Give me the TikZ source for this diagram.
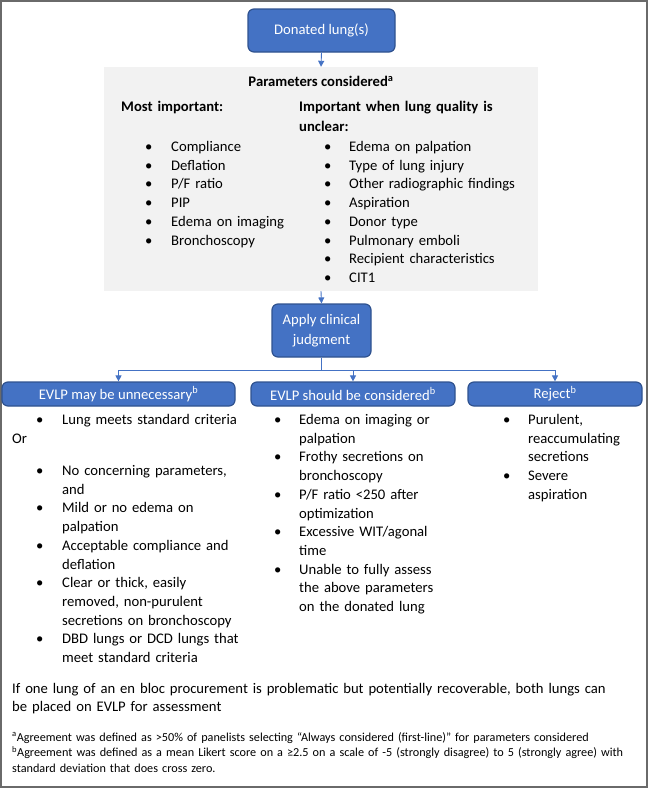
\documentclass[tikz,border=0pt]{standalone}
\usepackage{fontspec}
\setmainfont{Carlito}
\usetikzlibrary{arrows.meta}
\definecolor{bfill}{HTML}{4472C4}
\definecolor{bdraw}{HTML}{2F528F}
\definecolor{gfill}{HTML}{F2F2F2}
\definecolor{frame}{HTML}{6A6A6A}
\newcommand\bodyfs{\fontsize{14.67}{18.7}\selectfont}
\newcommand\notefs{\fontsize{12.2}{15.5}\selectfont}
\newcommand\bitem[5]{%
  \node[bul] (#1b) at (#2,#4) {•};
  \node[txt] (#1) at (#3,#4) {#5};}
\begin{document}
\begin{tikzpicture}[x=1pt,y=-1pt,
  bluebox/.style={draw=bdraw, fill=bfill, line width=1.2pt, rounded corners=6pt,
    text=white, font=\bodyfs, align=center, inner sep=0pt},
  conn/.style={draw=bfill, line width=0.9pt},
  arr/.style={conn, -{Triangle[length=6pt,width=6pt]}},
  txt/.style={anchor=base west, inner sep=0pt, font=\bodyfs, align=left, text width=260pt},
  bul/.style={anchor=base west, inner sep=0pt, font=\bodyfs},
  hdr/.style={anchor=base west, inner sep=0pt, font=\bodyfs\bfseries, align=left, text width=240pt},
]
\useasboundingbox (0,0) rectangle (648,788);
\draw[frame, line width=1.4pt] (1,1) rectangle (647,787);

% top
\node[bluebox, minimum width=147pt, minimum height=43pt] (donor) at (321.5,30.5) {Donated lung(s)};
\node[fill=gfill, minimum width=434pt, minimum height=224pt, inner sep=0pt] (params) at (321,179) {};
\draw[arr] (donor.south) -- (params.north);

\node[anchor=base, inner sep=0pt, font=\bodyfs\bfseries] (ptitle) at (321,86.5) {Parameters considered\textsuperscript{a}};
\node[hdr] (most) at (121,111.5) {Most important:};
\node[hdr, text width=210pt] (unclear) at (299,111.5) {Important when lung quality is\\[1.3pt]unclear:};

\bitem{l1}{145}{171}{151.5}{Compliance}
\bitem{l2}{145}{171}{170.2}{Deflation}
\bitem{l3}{145}{171}{188.9}{P/F ratio}
\bitem{l4}{145}{171}{207.6}{PIP}
\bitem{l5}{145}{171}{226.3}{Edema on imaging}
\bitem{l6}{145}{171}{245.0}{Bronchoscopy}

\bitem{r1}{324}{349}{151.5}{Edema on palpation}
\bitem{r2}{324}{349}{170.2}{Type of lung injury}
\bitem{r3}{324}{349}{188.9}{Other radiographic findings}
\bitem{r4}{324}{349}{207.6}{Aspiration}
\bitem{r5}{324}{349}{226.3}{Donor type}
\bitem{r6}{324}{349}{245.0}{Pulmonary emboli}
\bitem{r7}{324}{349}{263.7}{Recipient characteristics}
\bitem{r8}{324}{349}{282.4}{CIT1}

% judgment
\node[bluebox, minimum width=99pt, minimum height=53pt, font=\fontsize{14.67}{20}\selectfont] (judge) at (321.5,330.5) {Apply clinical\\judgment};
\draw[arr] (params.south) -- (judge.north);

\node[bluebox, minimum width=233pt, minimum height=24pt] (may) at (118.5,394) {EVLP may be unnecessary\textsuperscript{b}};
\node[bluebox, minimum width=204pt, minimum height=24pt] (should) at (353,394) {EVLP should be considered\textsuperscript{b}};
\node[bluebox, minimum width=174pt, minimum height=24pt] (reject) at (555,394) {Reject\textsuperscript{b}};

\coordinate (split) at (321.5,370);
\draw[conn] (judge.south) -- (split);
\draw[arr] (split) -| (may.north);
\draw[arr] (split) -| (should.north);
\draw[arr] (split) -| (reject.north);

% left column
\bitem{a1}{36}{62}{424.5}{Lung meets standard criteria}
\node[txt] (or) at (12,443.5) {Or};
\bitem{a2}{36}{62}{475.5}{No concerning parameters,\\and}
\bitem{a3}{36}{62}{512.9}{Mild or no edema on\\palpation}
\bitem{a4}{36}{62}{550.3}{Acceptable compliance and\\deflation}
\bitem{a5}{36}{62}{587.7}{Clear or thick, easily\\removed, non-purulent\\secretions on bronchoscopy}
\bitem{a6}{36}{62}{643.8}{DBD lungs or DCD lungs that\\meet standard criteria}

% middle column
\bitem{m1}{274}{299}{424.5}{Edema on imaging or\\palpation}
\bitem{m2}{274}{299}{461.9}{Frothy secretions on\\bronchoscopy}
\bitem{m3}{274}{299}{499.3}{P/F ratio <250 after\\optimization}
\bitem{m4}{274}{299}{536.7}{Excessive WIT/agonal\\time}
\bitem{m5}{274}{299}{574.1}{Unable to fully assess\\the above parameters\\on the donated lung}

% right column
\bitem{j1}{503}{528}{424.5}{Purulent,\\reaccumulating\\secretions}
\bitem{j2}{503}{528}{480.6}{Severe\\aspiration}

% bottom
\node[txt, text width=620pt] (enbloc) at (12,693) {If one lung of an en bloc procurement is problematic but potentially recoverable, both lungs can\\be placed on EVLP for assessment};
\node[txt, font=\notefs, text width=630pt] (fna) at (12,741) {\textsuperscript{a}Agreement was defined as >50\% of panelists selecting “Always considered (first-line)” for parameters considered};
\node[txt, font=\notefs, text width=630pt] (fnb) at (12,756.5) {\textsuperscript{b}Agreement was defined as a mean Likert score on a ≥2.5 on a scale of -5 (strongly disagree) to 5 (strongly agree) with\\standard deviation that does cross zero.};
\end{tikzpicture}
\end{document}
